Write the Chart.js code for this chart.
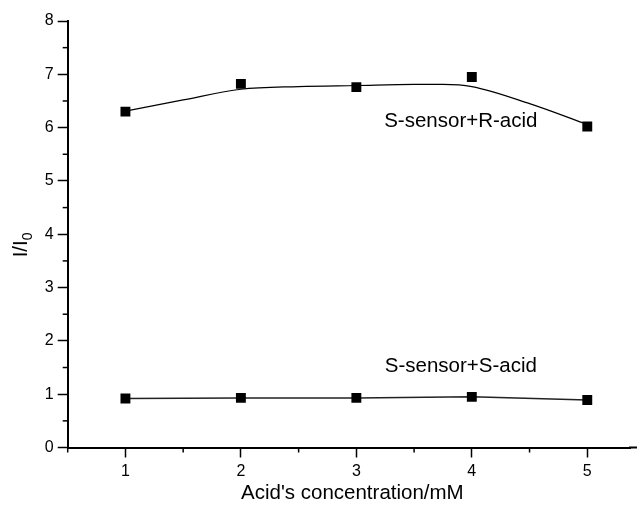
<!DOCTYPE html>
<html>
<head>
<meta charset="utf-8">
<script src="https://cdn.jsdelivr.net/npm/chart.js@4/dist/chart.umd.min.js"></script>
<style>
html,body{margin:0;padding:0;background:#fff;}
#wrap{width:637px;height:511px;position:relative;}
</style>
</head>
<body>
<div id="wrap"><canvas id="c" width="637" height="511"></canvas></div>
<script>
// Data
const concentrations = [1, 2, 3, 4, 5];
const rAcidValues = [6.30, 6.82, 6.76, 6.95, 6.02];
const sAcidValues = [0.92, 0.93, 0.93, 0.95, 0.89];
// Smoothed curve drawn through the R-acid data
const rFitX = [1, 1.5, 2, 2.5, 3, 3.5, 3.75, 4, 4.5, 5];
const rFitY = [6.31, 6.52, 6.72, 6.77, 6.79, 6.81, 6.81, 6.77, 6.45, 6.06];
const xTickLabels = [1, 2, 3, 4, 5];
const yTickLabels = [0, 1, 2, 3, 4, 5, 6, 7, 8];
const xTitle = "Acid's concentration/mM";
const yTitle = "I/I\u2080";
const rLabel = "S-sensor+R-acid";
const sLabel = "S-sensor+S-acid";

const FONT = "'Liberation Sans', Arial, sans-serif";

const toPts = (xs, ys) => xs.map((x, i) => ({x: x, y: ys[i]}));

const extras = {
  id: 'extras',
  afterDraw(chart) {
    const ctx = chart.ctx;
    const xs = chart.scales.x, ys = chart.scales.y;
    const area = chart.chartArea;
    ctx.save();
    ctx.strokeStyle = '#000';
    // extend the x axis line to the right edge of the picture
    ctx.lineWidth = 2;
    ctx.beginPath();
    ctx.moveTo(area.right - 1, area.bottom);
    ctx.lineTo(chart.width, area.bottom);
    ctx.stroke();
    ctx.lineWidth = 1.5;
    // minor ticks x
    for (let v = 0.5; v <= xs.max + 1e-9; v += 1) {
      const px = xs.getPixelForValue(v);
      ctx.beginPath();
      ctx.moveTo(px, area.bottom);
      ctx.lineTo(px, area.bottom + 5);
      ctx.stroke();
    }
    // minor ticks y
    for (let v = 0.5; v < ys.max; v += 1) {
      const py = ys.getPixelForValue(v);
      ctx.beginPath();
      ctx.moveTo(area.left, py);
      ctx.lineTo(area.left - 5, py);
      ctx.stroke();
    }
    // titles
    ctx.fillStyle = '#000';
    ctx.textAlign = 'center';
    ctx.textBaseline = 'middle';
    ctx.font = '20.5px ' + FONT;
    ctx.fillText(xTitle, xs.getPixelForValue(3) - 4, 493);
    ctx.fillText(rLabel, xs.getPixelForValue(4) - 11, ys.getPixelForValue(6.12));
    ctx.fillText(sLabel, xs.getPixelForValue(4) - 11, ys.getPixelForValue(1.53));
    // y title with subscript
    ctx.save();
    ctx.translate(21, ys.getPixelForValue(3.8));
    ctx.rotate(-Math.PI / 2);
    ctx.textAlign = 'left';
    ctx.font = '20.5px ' + FONT;
    const main = 'I/I';
    const w = ctx.measureText(main).width;
    ctx.font = '14px ' + FONT;
    const w2 = ctx.measureText('0').width;
    const start = -(w + w2) / 2;
    ctx.font = '20.5px ' + FONT;
    ctx.fillText(main, start, 0);
    ctx.font = '14px ' + FONT;
    ctx.fillText('0', start + w, 7);
    ctx.restore();
    ctx.restore();
  }
};

new Chart(document.getElementById('c'), {
  type: 'line',
  data: {
    datasets: [
      {
        label: 'R fit',
        data: toPts(rFitX, rFitY),
        borderColor: '#000',
        borderWidth: 1.2,
        pointRadius: 0,
        cubicInterpolationMode: 'monotone',
        fill: false
      },
      {
        label: rLabel,
        data: toPts(concentrations, rAcidValues),
        showLine: false,
        pointStyle: 'rect',
        pointRadius: 7,
        pointBackgroundColor: '#000',
        pointBorderColor: '#000',
        pointBorderWidth: 0
      },
      {
        label: sLabel,
        data: toPts(concentrations, sAcidValues),
        borderColor: '#222',
        borderWidth: 1.5,
        tension: 0,
        pointStyle: 'rect',
        pointRadius: 7,
        pointBackgroundColor: '#000',
        pointBorderColor: '#000',
        pointBorderWidth: 0,
        fill: false
      }
    ]
  },
  options: {
    responsive: false,
    animation: false,
    devicePixelRatio: 1,
    layout: {padding: {top: 21, right: 0, left: 0, bottom: 0}},
    plugins: {legend: {display: false}, tooltip: {enabled: false}},
    scales: {
      x: {
        type: 'linear',
        min: 0.5,
        max: 5.37,
        afterBuildTicks(scale) { scale.ticks = xTickLabels.map(v => ({value: v})); },
        afterFit(scale) { scale.height = 63.5; },
        grid: {drawOnChartArea: false, drawTicks: true, tickLength: 10, tickColor: '#000', tickWidth: 1.5},
        border: {display: true, color: '#000', width: 2},
        ticks: {color: '#000', font: {family: FONT, size: 16}, padding: 4, maxRotation: 0}
      },
      y: {
        min: 0,
        max: 8,
        afterBuildTicks(scale) { scale.ticks = yTickLabels.map(v => ({value: v})); },
        afterFit(scale) { scale.width = 67.7; },
        grid: {drawOnChartArea: false, drawTicks: true, tickLength: 10, tickColor: '#000', tickWidth: 1.5},
        border: {display: true, color: '#000', width: 2},
        ticks: {color: '#000', font: {family: FONT, size: 16}, padding: 4}
      }
    }
  },
  plugins: [extras]
});
</script>
</body>
</html>
